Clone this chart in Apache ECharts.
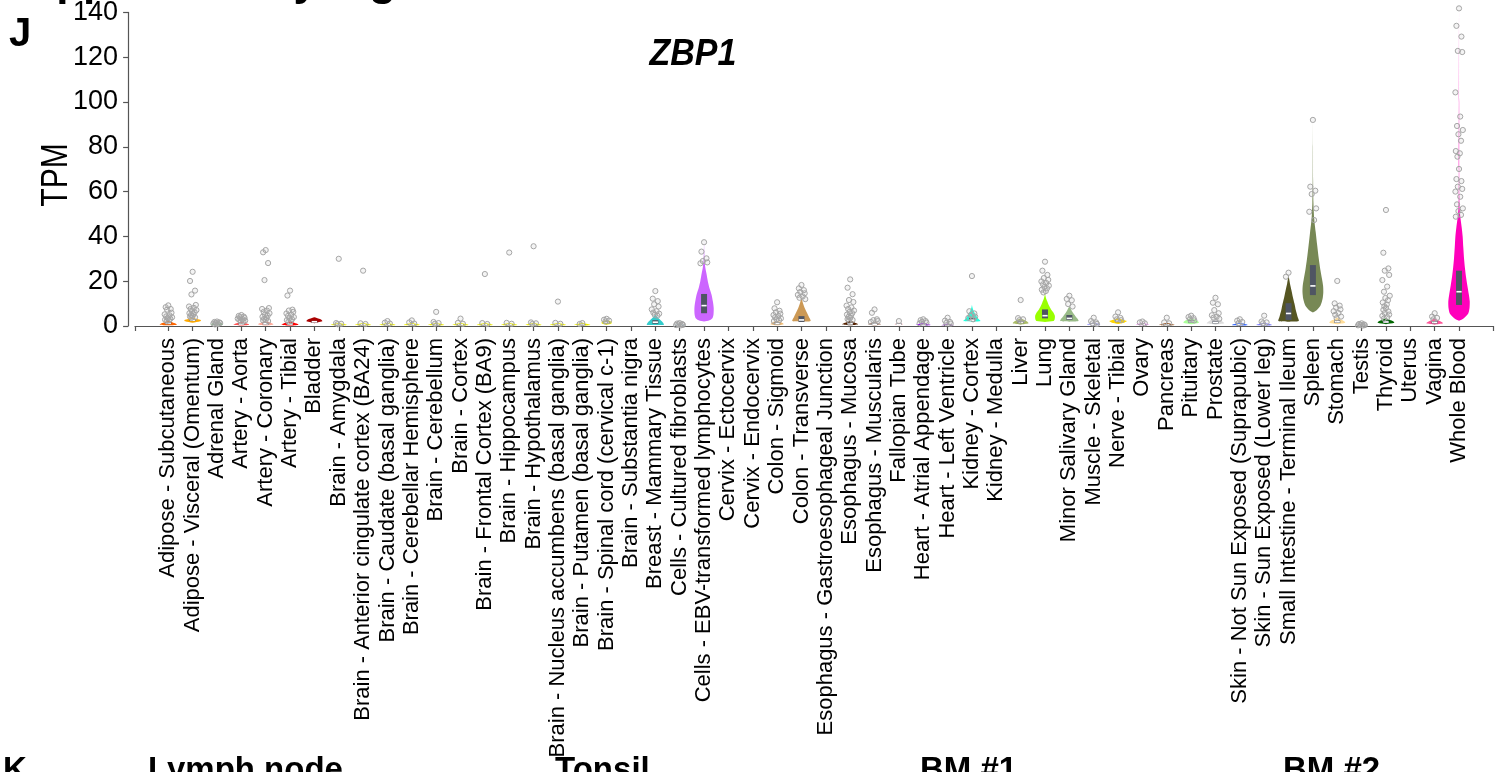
<!DOCTYPE html>
<html>
<head>
<meta charset="utf-8">
<title>ZBP1 expression by tissue</title>
<script src="https://cdn.jsdelivr.net/npm/echarts@6/dist/echarts.min.js"></script>
<style>
  html, body { margin: 0; padding: 0; background: #fff; }
  #chart { width: 1506px; height: 772px; }
</style>
</head>
<body>
<div id="chart"></div>
<script>
// Tissue categories (GTEx)
const tissues = [
  'Adipose - Subcutaneous', 'Adipose - Visceral (Omentum)', 'Adrenal Gland',
  'Artery - Aorta', 'Artery - Coronary', 'Artery - Tibial', 'Bladder',
  'Brain - Amygdala', 'Brain - Anterior cingulate cortex (BA24)',
  'Brain - Caudate (basal ganglia)', 'Brain - Cerebellar Hemisphere',
  'Brain - Cerebellum', 'Brain - Cortex', 'Brain - Frontal Cortex (BA9)',
  'Brain - Hippocampus', 'Brain - Hypothalamus',
  'Brain - Nucleus accumbens (basal ganglia)', 'Brain - Putamen (basal ganglia)',
  'Brain - Spinal cord (cervical c-1)', 'Brain - Substantia nigra',
  'Breast - Mammary Tissue', 'Cells - Cultured fibroblasts',
  'Cells - EBV-transformed lymphocytes', 'Cervix - Ectocervix',
  'Cervix - Endocervix', 'Colon - Sigmoid', 'Colon - Transverse',
  'Esophagus - Gastroesophageal Junction', 'Esophagus - Mucosa',
  'Esophagus - Muscularis', 'Fallopian Tube', 'Heart - Atrial Appendage',
  'Heart - Left Ventricle', 'Kidney - Cortex', 'Kidney - Medulla', 'Liver',
  'Lung', 'Minor Salivary Gland', 'Muscle - Skeletal', 'Nerve - Tibial',
  'Ovary', 'Pancreas', 'Pituitary', 'Prostate',
  'Skin - Not Sun Exposed (Suprapubic)', 'Skin - Sun Exposed (Lower leg)',
  'Small Intestine - Terminal Ileum', 'Spleen', 'Stomach', 'Testis',
  'Thyroid', 'Uterus', 'Vagina', 'Whole Blood'
];

// Tissue colours
const tissueColors = [
  '#FF6600', '#FFAA00', '#33DD33', '#FF5555', '#FFAA99', '#FF0000', '#AA0000',
  '#EEEE00', '#EEEE00', '#EEEE00', '#EEEE00', '#EEEE00', '#EEEE00', '#EEEE00',
  '#EEEE00', '#EEEE00', '#EEEE00', '#EEEE00', '#EEEE00', '#EEEE00',
  '#33CCCC', '#AAEEFF', '#CC66FF', '#CCAADD', '#CCAADD', '#EEBB77', '#CC9955',
  '#8B7355', '#552200', '#BB9988', '#FFCCCC', '#9900FF', '#660099',
  '#22FFDD', '#33FFC2', '#AABB66', '#99FF00', '#99BB88', '#AAAAFF', '#FFD700',
  '#FFAAFF', '#995522', '#AAFF99', '#DDDDDD', '#3366FF', '#7777FF',
  '#555522', '#778855', '#FFDD99', '#AAAAAA', '#006600', '#FF66FF', '#FF5599',
  '#FF00BB'
];

// Median and quartiles (TPM)
const medians = [
  1.2, 2.6, 1.0, 0.9, 1.0, 0.9, 1.9,
  0.6, 0.6, 0.6, 0.6, 0.6, 0.6, 0.6, 0.6, 0.6, 0.6, 0.6, 1.6, null,
  1.7, 0.35, 9.1, null, null, 1.1, 2.7, null, 1.0, 0.8, 0.8, 0.45, 0.3,
  2.6, null, 1.6, 4.6, 3.4, 0.7, 2.2, 0.7, 0.5, 2.0, 1.6, 0.6, 0.6,
  5.6, 17.9, 1.9, 0.4, 1.8, null, 1.6, 15.3
];
const q1s = [
  0.8, 2.2, 0.7, 0.6, 0.6, 0.6, 1.5,
  0.4, 0.4, 0.4, 0.4, 0.4, 0.4, 0.4, 0.4, 0.4, 0.4, 0.4, 1.2, null,
  1.0, 0.2, 5.7, null, null, 0.7, 1.8, null, 0.6, 0.5, 0.5, 0.3, 0.2,
  2.2, null, 1.2, 3.4, 2.7, 0.4, 1.7, 0.4, 0.3, 1.5, 1.1, 0.4, 0.4,
  2.7, 13.8, 1.4, 0.25, 1.3, null, 1.1, 9.4
];
const q3s = [
  1.7, 3.0, 1.3, 1.3, 1.5, 1.3, 2.3,
  0.8, 0.8, 0.8, 0.8, 0.8, 0.8, 0.8, 0.8, 0.8, 0.8, 0.8, 2.0, null,
  2.6, 0.5, 14.3, null, null, 1.6, 4.4, null, 1.5, 1.2, 1.2, 0.7, 0.5,
  3.6, null, 2.2, 7.4, 4.9, 1.0, 2.7, 1.0, 0.8, 2.6, 2.3, 0.9, 0.9,
  10.2, 27.2, 2.5, 0.6, 2.4, null, 2.2, 24.7
];

// Violin outlines: [TPM, relative density] from bottom to top
const brainShape = [[0.1, 0], [0.4, 0.78], [0.9, 0.52], [1.5, 0]];
const densityProfiles = [
  [[0.3, 0], [0.6, 0.8], [1.2, 0.62], [1.8, 0.3], [2.4, 0]],
  [[1.4, 0], [2.1, 0.7], [2.6, 0.78], [3.1, 0.4], [3.8, 0]],
  [[0.3, 0], [0.7, 0.55], [1.2, 0.4], [1.8, 0]],
  [[0.2, 0], [0.6, 0.72], [1.2, 0.45], [1.9, 0]],
  [[0.2, 0], [0.7, 0.72], [1.4, 0.45], [2.2, 0]],
  [[0.2, 0], [0.6, 0.78], [1.3, 0.45], [2.1, 0]],
  [[1.2, 0], [1.7, 0.35], [2.1, 0.74], [2.6, 0.7], [3.2, 0.45], [3.9, 0]],
  brainShape, brainShape, brainShape, brainShape, brainShape, brainShape,
  brainShape, brainShape, brainShape, brainShape, brainShape,
  [[0.5, 0], [1.1, 0.45], [1.9, 0.45], [2.7, 0]],
  null,
  [[0.4, 0], [0.6, 0.8], [1.5, 0.72], [2.5, 0.52], [3.5, 0.3], [4.4, 0.12], [5.0, 0]],
  [[0.05, 0], [0.3, 0.55], [0.7, 0.3], [1.1, 0]],
  [[2.0, 0], [2.6, 0.5], [3.5, 0.78], [5, 0.88], [8, 0.9], [11, 0.82], [14, 0.7],
   [17, 0.5], [20, 0.35], [23.5, 0.22], [26, 0.12], [29, 0.05], [33, 0.02], [37.5, 0]],
  null,
  null,
  [[0.3, 0], [0.8, 0.62], [1.5, 0.45], [2.3, 0]],
  [[1.9, 0], [2.2, 0.85], [4, 0.7], [6, 0.5], [8, 0.3], [10, 0.15], [12, 0.04], [13, 0]],
  null,
  [[0.3, 0], [0.8, 0.74], [1.5, 0.45], [2.3, 0]],
  [[0.2, 0], [0.7, 0.6], [1.3, 0.4], [2.0, 0]],
  [[0.3, 0], [0.7, 0.4], [1.2, 0.25], [1.6, 0]],
  [[0.1, 0], [0.4, 0.72], [0.9, 0.4], [1.4, 0]],
  [[0.05, 0], [0.3, 0.6], [0.7, 0.35], [1.1, 0]],
  [[1.9, 0], [2.2, 0.8], [3.5, 0.55], [5, 0.35], [6.5, 0.18], [8, 0.06], [9.5, 0]],
  null,
  [[0.6, 0], [1.2, 0.74], [2.0, 0.6], [3.0, 0.2], [3.6, 0]],
  [[1.8, 0], [2.2, 0.8], [3, 0.9], [4.5, 0.92], [6, 0.78], [7.5, 0.55], [9, 0.38],
   [10.5, 0.25], [12, 0.12], [13.5, 0.04], [15, 0]],
  [[1.9, 0], [2.2, 0.85], [3, 0.8], [4.5, 0.55], [6, 0.32], [7.5, 0.15], [8.8, 0]],
  [[0.2, 0], [0.6, 0.62], [1.1, 0.4], [1.6, 0]],
  [[0.9, 0], [1.6, 0.62], [2.2, 0.82], [2.8, 0.45], [3.6, 0]],
  [[0.2, 0], [0.6, 0.62], [1.1, 0.35], [1.6, 0]],
  [[0.1, 0], [0.5, 0.72], [0.9, 0.4], [1.4, 0]],
  [[0.8, 0], [1.5, 0.72], [2.2, 0.6], [3.0, 0.3], [3.8, 0]],
  [[0.6, 0], [1.2, 0.82], [2.0, 0.65], [3.0, 0.3], [3.8, 0]],
  [[0.1, 0], [0.5, 0.72], [1.0, 0.4], [1.5, 0]],
  [[0.1, 0], [0.5, 0.72], [1.0, 0.4], [1.5, 0]],
  [[1.9, 0], [2.2, 0.95], [4, 0.85], [7, 0.68], [10, 0.55], [13, 0.4], [16, 0.27],
   [19, 0.13], [21.5, 0.04], [23, 0]],
  [[6, 0], [7, 0.35], [9, 0.7], [12, 0.9], [15, 0.97], [18, 0.95], [21, 0.85],
   [25, 0.7], [30, 0.55], [36, 0.4], [42, 0.26], [48, 0.12], [55, 0.05],
   [65, 0.02], [80, 0.01], [92, 0]],
  [[0.8, 0], [1.5, 0.74], [2.2, 0.6], [3.0, 0.3], [3.8, 0]],
  [[0.05, 0], [0.3, 0.5], [0.7, 0.3], [1.1, 0]],
  [[0.8, 0], [1.4, 0.78], [2.0, 0.7], [2.8, 0.35], [3.5, 0]],
  null,
  [[0.6, 0], [1.2, 0.78], [1.9, 0.6], [2.8, 0.25], [3.5, 0]],
  [[2.3, 0], [3.5, 0.45], [5.5, 0.85], [8, 0.98], [11, 1.0], [14, 0.92], [18, 0.78],
   [22, 0.65], [26, 0.55], [30, 0.47], [35, 0.4], [40, 0.34], [44, 0.25],
   [48, 0.14], [52, 0.06], [58, 0.025], [70, 0.015], [100, 0.012], [142, 0]]
];

// Outlying samples (TPM)
const outliers = [
  [9.2, 8.4, 7.6, 7.3, 5.9, 5.2, 4.8, 4.3, 3.9, 3.5, 3.2, 2.8, 2.5, 2.2],
  [24.2, 20.1, 15.8, 14.1, 9.4, 8.7, 8.1, 7.6, 7.1, 6.6, 6.1, 5.7, 5.3, 4.9, 4.5, 4.2, 3.9, 3.6],
  [2.0, 1.8, 1.6, 1.4, 1.3, 1.1, 0.9, 0.7],
  [4.9, 4.5, 4.2, 3.9, 3.6, 3.3, 3.0, 2.7, 2.4, 2.2, 2.0],
  [33.9, 32.9, 28.1, 20.5, 8.0, 7.6, 6.9, 6.3, 5.7, 5.1, 4.6, 4.1, 3.6, 3.2, 2.8, 2.5, 2.2],
  [15.8, 13.6, 7.3, 6.9, 6.3, 5.6, 5.0, 4.5, 4.0, 3.5, 3.0, 2.6, 2.2, 1.9],
  [],
  [30.0, 1.3, 1.0, 0.8],
  [24.7, 1.2, 0.9],
  [2.2, 1.5, 1.1],
  [2.5, 1.6, 1.1],
  [6.3, 1.8, 1.3, 1.0],
  [3.3, 1.4, 1.0],
  [23.2, 1.3, 0.9],
  [32.8, 1.4, 1.0],
  [35.6, 1.6, 1.2, 0.9],
  [10.9, 1.4, 1.0],
  [1.3, 0.9],
  [3.2, 2.8, 2.4, 2.0],
  [],
  [15.6, 12.2, 11.1, 9.7, 8.7, 7.4, 6.6, 6.0, 5.5, 5.0, 4.6],
  [1.3, 1.1, 0.9, 0.7, 0.5, 0.4, 0.3],
  [37.4, 33.2, 30.2, 29.0, 28.4, 28.0],
  [],
  [],
  [10.6, 7.9, 6.8, 6.1, 5.5, 4.9, 4.4, 3.9, 3.4, 3.0, 2.6, 2.2],
  [18.3, 16.8, 16.0, 15.2, 14.6, 13.9, 13.2, 12.6, 12.0],
  [],
  [20.8, 17.1, 14.2, 11.6, 10.7, 9.1, 8.3, 7.6, 6.9, 6.3, 5.7, 5.1, 4.6, 4.1, 3.6, 3.1, 2.7, 2.3],
  [7.4, 5.9, 3.0, 2.6, 2.2, 1.8],
  [2.2],
  [3.0, 2.6, 2.2, 1.8, 1.5, 1.2],
  [3.7, 2.4, 1.8, 1.4, 1.1],
  [22.3, 6.6, 5.6, 4.9, 4.2, 3.6, 3.0],
  [],
  [11.6, 3.5, 3.0, 2.6],
  [28.7, 24.7, 22.8, 21.4, 20.6, 19.9, 19.2, 18.6, 18.0, 17.4, 16.8, 16.2, 15.6, 15.0],
  [13.5, 12.1, 11.5, 9.8, 8.7],
  [3.7, 2.2, 1.6, 1.2, 0.9],
  [6.1, 4.2, 3.6, 3.0, 2.6],
  [2.0, 1.6, 1.2],
  [3.7, 1.6, 1.2],
  [4.6, 4.0, 3.5, 3.0, 2.5],
  [12.6, 10.4, 9.7, 7.1, 5.7, 4.8, 4.2, 3.7, 3.2],
  [3.0, 2.4, 1.8, 1.3],
  [4.6, 2.0, 1.6, 1.2],
  [23.8, 22.0],
  [92.0, 62.2, 60.4, 58.9, 52.5, 51.0, 47.3],
  [20.1, 10.1, 9.1, 8.2, 7.4, 6.6, 5.8, 5.0, 4.2, 3.5],
  [1.2, 0.9, 0.7, 0.5, 0.4, 0.3, 0.2],
  [51.8, 32.7, 25.7, 24.7, 22.8, 20.5, 17.6, 15.3, 13.5, 12.5, 11.5, 10.5, 9.6, 8.8,
   8.0, 7.2, 6.5, 5.8, 5.1, 4.5, 3.9, 3.3],
  [],
  [5.7, 4.2, 3.6, 3.0],
  [141.8, 134.0, 129.2, 122.8, 122.3, 104.3, 93.5, 89.3, 87.5, 85.6, 82.7, 78.1, 77.1,
   75.6, 70.1, 65.6, 64.7, 62.2, 61.2, 60.0, 57.7, 54.3, 52.5, 51.3, 49.6, 48.8]
];

// TPM axis ticks
const tpmTicks = [0, 20, 40, 60, 80, 100, 120, 140];

const geneName = 'ZBP1';
const yTitle = 'TPM';
const panelLetter = 'J';
const nextPanelLetter = 'K';
const nextPanelHeads = ['Lymph node', 'Tonsil', 'BM #1', 'BM #2'];
const figureHeading = 'Supplementary Figure';

const FONT = "'Liberation Sans', Arial, Helvetica, sans-serif";
const AXIS_COLOR = '#555555';

// horizontal jitter pattern for the sample points (pixels)
const JITTER = [0, -2.6, 2.4, -1.2, 3.2, -3.6, 1.2, -2.0, 3.8, -0.6, 2.0, -3.2, 0.8, -1.6];

const violinData = tissues.map((t, i) => [i, medians[i] == null ? 0 : medians[i]]);
const pointData = [];
outliers.forEach((vals, i) => vals.forEach((v, k) => pointData.push([i, v, k])));

function renderViolin(params, api) {
  const i = api.value(0);
  const prof = densityProfiles[i];
  if (!prof) return null;
  const cx = api.coord([i, 0])[0];
  const band = api.size([1, 0])[0];
  const half = band * 0.44;
  const left = [], right = [];
  prof.forEach(([v, w]) => {
    const y = api.coord([i, v])[1];
    left.push([cx - w * half, y]);
    right.push([cx + w * half, y]);
  });
  const pts = left.concat(right.reverse());
  const children = [{
    type: 'polygon',
    shape: { points: pts, smooth: 0.25 },
    style: { fill: tissueColors[i] }
  }];
  if (medians[i] != null) {
    const yq1 = api.coord([i, q1s[i]])[1];
    const yq3 = api.coord([i, q3s[i]])[1];
    const ym = api.coord([i, medians[i]])[1];
    const bw = 6;
    children.push({
      type: 'rect',
      shape: { x: cx - bw / 2, y: yq3, width: bw, height: Math.max(1.2, yq1 - yq3) },
      style: { fill: '#4f5563' }
    });
    children.push({
      type: 'line',
      shape: { x1: cx - 2.6, y1: ym, x2: cx + 2.6, y2: ym },
      style: { stroke: '#ffffff', lineWidth: 1.6 }
    });
  }
  return { type: 'group', children };
}

function renderPoint(params, api) {
  const i = api.value(0);
  const k = api.value(2);
  const c = api.coord([i, api.value(1)]);
  return {
    type: 'circle',
    shape: { cx: c[0] + JITTER[k % JITTER.length], cy: c[1], r: 2.6 },
    style: { fill: 'rgba(165,165,165,0.12)', stroke: '#a6a6a6', lineWidth: 1 }
  };
}

const chart = echarts.init(document.getElementById('chart'), null, { renderer: 'canvas' });

const gridTop = 12.4, gridBottom = 446;

const option = {
  backgroundColor: '#ffffff',
  animation: false,
  grid: [
    { left: 156.1, right: 34.8, top: gridTop, bottom: gridBottom, containLabel: false, outerBoundsMode: 'none' },
    { left: 135, right: 13, top: gridTop, bottom: gridBottom, containLabel: false, outerBoundsMode: 'none' }
  ],
  xAxis: [
    {
      type: 'category', gridIndex: 0, data: tissues, offset: 4,
      axisLine: { show: false },
      axisTick: { show: true, alignWithLabel: true, interval: 0, length: 5,
                  lineStyle: { color: AXIS_COLOR, width: 1.2 } },
      axisLabel: { interval: 0, rotate: 90, margin: 8, fontSize: 22, color: '#000',
                   fontFamily: FONT, hideOverlap: false },
      splitLine: { show: false }
    },
    {
      type: 'value', gridIndex: 1, min: 0, max: 1, interval: 1, offset: 4,
      axisLine: { show: true, lineStyle: { color: AXIS_COLOR, width: 1.2 } },
      axisTick: { show: true, length: 5, lineStyle: { color: AXIS_COLOR, width: 1.2 } },
      axisLabel: { show: false },
      splitLine: { show: false }
    }
  ],
  yAxis: [
    {
      type: 'value', gridIndex: 0,
      min: tpmTicks[0], max: tpmTicks[tpmTicks.length - 1], interval: tpmTicks[1] - tpmTicks[0],
      offset: 28,
      axisLine: { show: true, lineStyle: { color: AXIS_COLOR, width: 1.2 } },
      axisTick: { show: true, length: 5, lineStyle: { color: AXIS_COLOR, width: 1.2 } },
      axisLabel: { margin: 10, fontSize: 27, color: '#000', fontFamily: FONT },
      splitLine: { show: false }
    },
    { type: 'value', gridIndex: 1, show: false, min: 0, max: 1 }
  ],
  graphic: [
    { type: 'text', x: 0, y: -17.6, silent: true,
      style: { text: figureHeading, font: `bold 44px ${FONT}`, fill: '#000',
               align: 'left', verticalAlign: 'middle' } },
    { type: 'text', x: 9, y: 34.6, silent: true,
      style: { text: panelLetter, font: `bold 40px ${FONT}`, fill: '#000',
               align: 'left', verticalAlign: 'middle' } },
    { type: 'text', x: 693, y: 54.5, scaleY: 1.1, silent: true,
      style: { text: geneName, font: `italic bold 34px ${FONT}`, fill: '#000',
               align: 'center', verticalAlign: 'middle' } },
    { type: 'text', x: 57, y: 175, rotation: Math.PI / 2, scaleY: 1.25, silent: true,
      style: { text: yTitle, font: `30px ${FONT}`, fill: '#000',
               align: 'center', verticalAlign: 'middle' } },
    { type: 'text', x: 3, y: 771.4, silent: true,
      style: { text: nextPanelLetter, font: `bold 33px ${FONT}`, fill: '#000',
               align: 'left', verticalAlign: 'middle' } },
    { type: 'text', x: 148, y: 771.4, silent: true,
      style: { text: nextPanelHeads[0], font: `bold 33px ${FONT}`, fill: '#000',
               align: 'left', verticalAlign: 'middle' } },
    { type: 'text', x: 555, y: 771.4, silent: true,
      style: { text: nextPanelHeads[1], font: `bold 33px ${FONT}`, fill: '#000',
               align: 'left', verticalAlign: 'middle' } },
    { type: 'text', x: 920, y: 771.4, silent: true,
      style: { text: nextPanelHeads[2], font: `bold 33px ${FONT}`, fill: '#000',
               align: 'left', verticalAlign: 'middle' } },
    { type: 'text', x: 1283, y: 771.4, silent: true,
      style: { text: nextPanelHeads[3], font: `bold 33px ${FONT}`, fill: '#000',
               align: 'left', verticalAlign: 'middle' } }
  ],
  series: [
    {
      type: 'custom', name: 'violins', xAxisIndex: 0, yAxisIndex: 0,
      renderItem: renderViolin, data: violinData, encode: { x: 0, y: 1 },
      clip: false, silent: true, z: 2
    },
    {
      type: 'custom', name: 'samples', xAxisIndex: 0, yAxisIndex: 0,
      renderItem: renderPoint, data: pointData, encode: { x: 0, y: 1 },
      clip: false, silent: true, z: 3
    }
  ]
};

chart.setOption(option);
</script>
</body>
</html>
